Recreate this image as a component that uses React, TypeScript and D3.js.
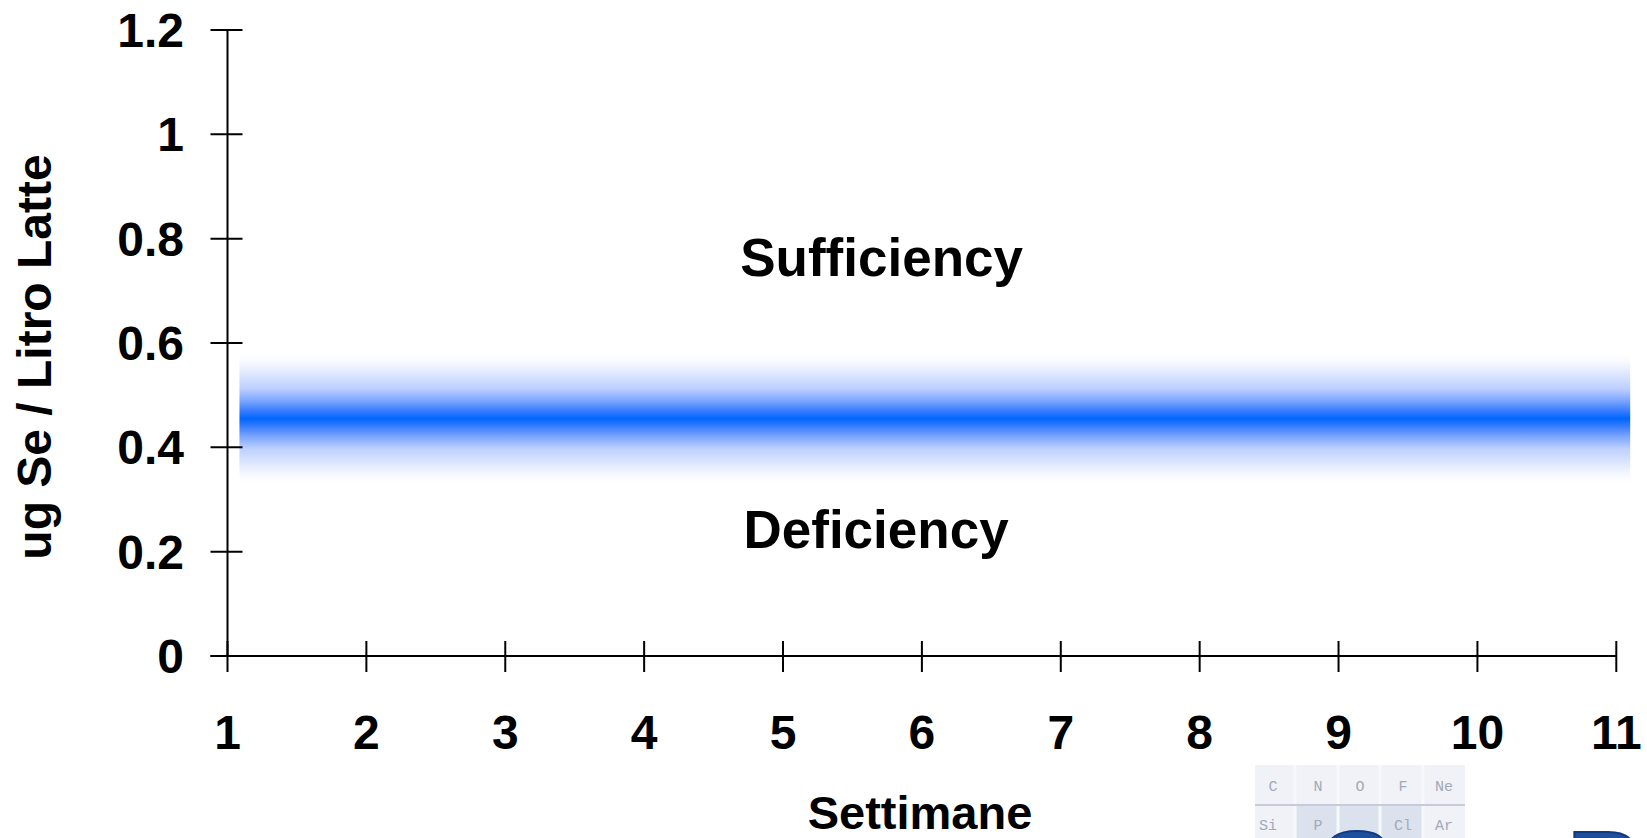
import React, { useRef, useEffect } from "react";
import * as d3 from "d3";

// axis ticks
const weeks = [1, 2, 3, 4, 5, 6, 7, 8, 9, 10, 11];
const yTicks = [0, 0.2, 0.4, 0.6, 0.8, 1, 1.2];
const yTickLabels = ["0", "0.2", "0.4", "0.6", "0.8", "1", "1.2"];

// threshold band (ug Se / L) and its extent in weeks
const bandWeeks = [1.086, 11.1];
const bandLevel = [0.455];
const bandSpread = [0.13];

// zone labels: [week, value]
const zoneNames = ["Sufficiency", "Deficiency"];
const zoneWeeks = [5.71, 5.67];
const zoneValues = [0.728, 0.207];

// logo pieces (periodic table corner)
const logoRow1 = ["C", "N", "O", "F", "Ne"];
const logoRow2 = ["Si", "P", "", "Cl", "Ar"];

export default function App() {
  const ref = useRef<SVGSVGElement>(null);

  useEffect(() => {
    const width = 1647;
    const height = 838;
    const font = "'Liberation Sans', Arial, sans-serif";

    const svg = d3.select(ref.current);
    svg.selectAll("*").remove();
    svg.attr("width", width).attr("height", height);

    const x = d3.scaleLinear().domain([1, 11]).range([227.5, 1616.3]);
    const y = d3.scaleLinear().domain([0, 1.2]).range([656, 30]);

    // gradient band
    const defs = svg.append("defs");
    const grad = defs
      .append("linearGradient")
      .attr("id", "band")
      .attr("x1", 0)
      .attr("y1", 0)
      .attr("x2", 0)
      .attr("y2", 1);
    const stops: [number, string, number][] = [
      [0, "#ffffff", 0],
      [0.12, "#eef2ff", 1],
      [0.28, "#bccfff", 1],
      [0.37, "#7aa4ff", 1],
      [0.44, "#3b7eff", 1],
      [0.5, "#0066ff", 1],
      [0.56, "#3b7eff", 1],
      [0.63, "#7aa4ff", 1],
      [0.72, "#bccfff", 1],
      [0.88, "#eef2ff", 1],
      [1, "#ffffff", 0],
    ];
    stops.forEach(([o, c, op]) =>
      grad.append("stop").attr("offset", o).attr("stop-color", c).attr("stop-opacity", op)
    );

    svg
      .append("rect")
      .attr("x", x(bandWeeks[0]))
      .attr("width", x(bandWeeks[1]) - x(bandWeeks[0]))
      .attr("y", y(bandLevel[0] + bandSpread[0]))
      .attr("height", y(bandLevel[0] - bandSpread[0]) - y(bandLevel[0] + bandSpread[0]))
      .attr("fill", "url(#band)");

    const axes = svg.append("g").attr("stroke", "#000").attr("stroke-width", 2);

    // Y axis
    axes
      .append("line")
      .attr("x1", x(1))
      .attr("x2", x(1))
      .attr("y1", y(1.2))
      .attr("y2", y(0));
    axes
      .selectAll(".ytick")
      .data(yTicks)
      .enter()
      .append("line")
      .attr("x1", x(1) - 17)
      .attr("x2", x(1) + 15)
      .attr("y1", d => y(d))
      .attr("y2", d => y(d));

    // X axis
    axes
      .append("line")
      .attr("x1", x(1) - 17)
      .attr("x2", x(11))
      .attr("y1", y(0))
      .attr("y2", y(0));
    axes
      .selectAll(".xtick")
      .data(weeks)
      .enter()
      .append("line")
      .attr("x1", d => x(d))
      .attr("x2", d => x(d))
      .attr("y1", y(0) - 15)
      .attr("y2", y(0) + 16);

    // tick labels
    svg
      .append("g")
      .selectAll("text")
      .data(yTicks)
      .enter()
      .append("text")
      .attr("x", 184)
      .attr("y", d => y(d) + 17)
      .attr("text-anchor", "end")
      .attr("font-family", font)
      .attr("font-weight", "bold")
      .attr("font-size", 48)
      .text((d, i) => yTickLabels[i]);

    svg
      .append("g")
      .selectAll("text")
      .data(weeks)
      .enter()
      .append("text")
      .attr("x", d => x(d))
      .attr("y", 749)
      .attr("text-anchor", "middle")
      .attr("font-family", font)
      .attr("font-weight", "bold")
      .attr("font-size", 48)
      .text(d => String(d));

    // zone labels
    svg
      .append("g")
      .selectAll("text")
      .data(zoneNames)
      .enter()
      .append("text")
      .attr("x", (d, i) => x(zoneWeeks[i]))
      .attr("y", (d, i) => y(zoneValues[i]))
      .attr("text-anchor", "middle")
      .attr("font-family", font)
      .attr("font-weight", "bold")
      .attr("font-size", 53)
      .text(d => d);

    // axis titles
    svg
      .append("text")
      .attr("x", 920)
      .attr("y", 829)
      .attr("text-anchor", "middle")
      .attr("font-family", font)
      .attr("font-weight", "bold")
      .attr("font-size", 47)
      .text("Settimane");

    svg
      .append("text")
      .attr("transform", "translate(51,357) rotate(-90)")
      .attr("text-anchor", "middle")
      .attr("font-family", font)
      .attr("font-weight", "bold")
      .attr("font-size", 48)
      .text("ug Se / Litro Latte");

    // logo corner
    const logo = svg.append("g");
    logo
      .append("rect")
      .attr("x", 1255)
      .attr("y", 765)
      .attr("width", 210)
      .attr("height", 80)
      .attr("fill", "#eceff6")
      .attr("opacity", 0.8);
    logo
      .append("rect")
      .attr("x", 1295)
      .attr("y", 805)
      .attr("width", 128)
      .attr("height", 40)
      .attr("fill", "#dce1ee");
    [1295, 1338, 1380, 1423].forEach(v =>
      logo
        .append("line")
        .attr("x1", v)
        .attr("x2", v)
        .attr("y1", 765)
        .attr("y2", 838)
        .attr("stroke", "#f7f8fb")
        .attr("stroke-width", 3)
    );
    logo
      .append("line")
      .attr("x1", 1255)
      .attr("x2", 1465)
      .attr("y1", 805)
      .attr("y2", 805)
      .attr("stroke", "#c5cbd9")
      .attr("stroke-width", 2);
    const cols = [1273, 1318, 1360, 1403, 1444];
    logo
      .selectAll(".r1")
      .data(logoRow1)
      .enter()
      .append("text")
      .attr("x", (d, i) => cols[i])
      .attr("y", 791)
      .attr("text-anchor", "middle")
      .attr("font-family", "'Liberation Mono', monospace")
      .attr("font-size", 15)
      .attr("fill", "#a2a9b8")
      .text(d => d);
    logo
      .selectAll(".r2")
      .data(logoRow2)
      .enter()
      .append("text")
      .attr("x", (d, i) => cols[i] - (i === 0 ? 5 : 0))
      .attr("y", 830)
      .attr("text-anchor", "middle")
      .attr("font-family", "'Liberation Mono', monospace")
      .attr("font-size", 15)
      .attr("fill", "#a2a9b8")
      .text(d => d);
    logo
      .append("text")
      .attr("y", 908)
      .attr("font-family", font)
      .attr("font-weight", "bold")
      .attr("font-size", 110)
      .attr("fill", "#1d4f9f")
      .attr("stroke", "#0f3a80")
      .attr("stroke-width", 2)
      .selectAll("tspan")
      .data(["S", "P"])
      .enter()
      .append("tspan")
      .attr("x", (d, i) => [1320, 1567][i])
      .text(d => d);
  }, []);

  return (
    <svg
      ref={ref}
      style={{ position: "absolute", left: 0, top: 0, display: "block", background: "#fff" }}
    ></svg>
  );
}
